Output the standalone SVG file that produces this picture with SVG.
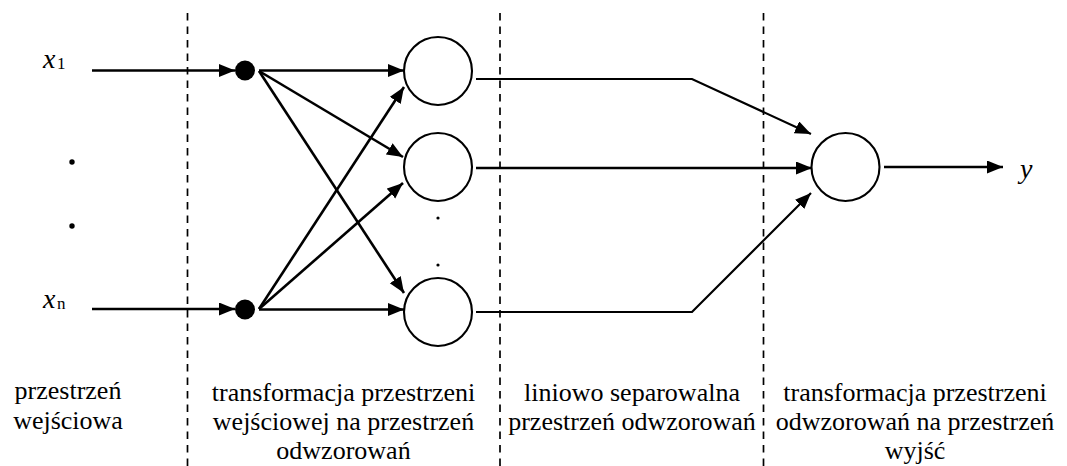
<svg xmlns="http://www.w3.org/2000/svg" width="1067" height="466" viewBox="0 0 1067 466">
<style>
.dash{stroke:#000;stroke-width:1.7;stroke-dasharray:7.5 6;fill:none}
.ln{stroke:#000;stroke-width:2.6;fill:none}
.lt{stroke:#000;stroke-width:2.2;fill:none}
.node{fill:#fff;stroke:#000;stroke-width:2.1}
text{font-family:'Liberation Serif','Tinos','DejaVu Serif',serif;fill:#000}
.lab{font-size:26px;text-anchor:middle}
.var{font-size:28px;font-style:italic}
.sub{font-size:17px}
</style>
<defs>
<marker id="ah" markerUnits="userSpaceOnUse" markerWidth="18" markerHeight="14" refX="16" refY="6.5" orient="auto">
<path d="M0,0 L16,6.5 L0,13 z" fill="#000"/>
</marker>
</defs>
<g id="separators">
<line class="dash" x1="187.5" y1="13" x2="187.5" y2="466"/>
<line class="dash" x1="500" y1="13" x2="500" y2="466"/>
<line class="dash" x1="763.5" y1="13" x2="763.5" y2="466"/>
</g>
<g id="connectors">
<line class="ln" x1="92" y1="70.5" x2="235" y2="70.5" marker-end="url(#ah)"/>
<line class="ln" x1="92" y1="309" x2="235" y2="309" marker-end="url(#ah)"/>
<line class="ln" x1="259" y1="70.5" x2="404" y2="70.5" marker-end="url(#ah)"/>
<line class="ln" x1="259" y1="71" x2="403" y2="157" marker-end="url(#ah)"/>
<line class="ln" x1="259" y1="71" x2="404" y2="293" marker-end="url(#ah)"/>
<line class="ln" x1="259" y1="309" x2="404" y2="87" marker-end="url(#ah)"/>
<line class="ln" x1="259" y1="309" x2="403" y2="183" marker-end="url(#ah)"/>
<line class="ln" x1="259" y1="309.5" x2="404" y2="309.5" marker-end="url(#ah)"/>
<polyline class="lt" points="476,79 692,79 811,134" marker-end="url(#ah)"/>
<line class="ln" x1="476" y1="168" x2="812" y2="168" marker-end="url(#ah)"/>
<polyline class="lt" points="476,312 692,312 811,193" marker-end="url(#ah)"/>
<line class="ln" x1="884" y1="167" x2="1003" y2="167" marker-end="url(#ah)"/>
</g>
<g id="input-x1">
<text x="43" y="68" class="var">x</text><text x="57" y="69" class="sub">1</text>
</g>
<g id="input-xn">
<text x="43" y="308" class="var">x</text><text x="57" y="309" class="sub">n</text>
</g>
<g id="output-y"><text x="1020" y="178" class="var">y</text></g>
<g id="label-input">
<text class="lab" x="68" y="399">przestrzeń</text>
<text class="lab" x="68" y="429">wejściowa</text>
</g>
<g id="label-transform1">
<text class="lab" x="343.5" y="401">transformacja przestrzeni</text>
<text class="lab" x="343.5" y="430">wejściowej na przestrzeń</text>
<text class="lab" x="343.5" y="459">odwzorowań</text>
</g>
<g id="label-separable">
<text class="lab" x="632" y="401">liniowo separowalna</text>
<text class="lab" x="632" y="430">przestrzeń odwzorowań</text>
</g>
<g id="label-transform2">
<text class="lab" x="915" y="401">transformacja przestrzeni</text>
<text class="lab" x="915" y="430">odwzorowań na przestrzeń</text>
<text class="lab" x="915" y="459">wyjść</text>
</g>
<g id="input-dots">
<circle cx="72" cy="162" r="2.7" fill="#000"/>
<circle cx="72" cy="226" r="2.7" fill="#000"/>
</g>
<g id="dot1"><circle cx="245" cy="70.5" r="10" fill="#000"/></g>
<g id="dot2"><circle cx="245" cy="309.5" r="10" fill="#000"/></g>
<g id="hidden1"><circle class="node" cx="438" cy="71" r="34"/></g>
<g id="hidden2"><circle class="node" cx="438" cy="167" r="34"/></g>
<g id="hidden-dots">
<circle cx="438" cy="218" r="1.6" fill="#000"/>
<circle cx="438" cy="265" r="1.6" fill="#000"/>
</g>
<g id="hidden3"><circle class="node" cx="438" cy="312" r="34"/></g>
<g id="output"><circle class="node" cx="845.5" cy="167" r="34"/></g>
</svg>
